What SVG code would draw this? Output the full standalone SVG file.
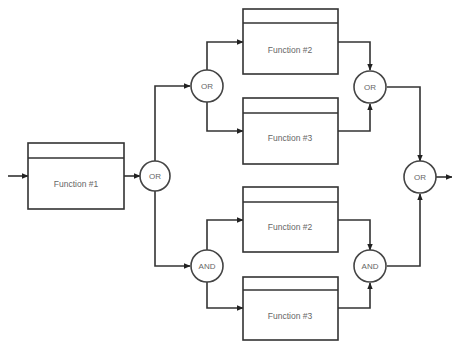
<svg xmlns="http://www.w3.org/2000/svg" width="452" height="342" viewBox="0 0 452 342">
<style>
.box{fill:#fff;stroke:#333;stroke-width:1.6}
.gate{fill:#fff;stroke:#444;stroke-width:1.6}
.lbl{font-family:"Liberation Sans",Arial,sans-serif;font-size:8.5px;fill:#666;text-anchor:middle}
.glbl{font-family:"Liberation Sans",Arial,sans-serif;font-size:8px;fill:#666;text-anchor:middle}
.wire{fill:none;stroke:#333;stroke-width:1.6;marker-end:url(#arr)}
</style>
<defs>
<marker id="arr" viewBox="0 0 10 10" refX="9" refY="5" markerWidth="7" markerHeight="7" orient="auto" markerUnits="userSpaceOnUse">
<path d="M0,1 L10,5 L0,9 z" fill="#222"/>
</marker>
</defs>
<g id="connectors">
<path class="wire" d="M8,176 H28"/>
<path class="wire" d="M124,176 H140"/>
<path class="wire" d="M155,161 V86 H190"/>
<path class="wire" d="M155,191 V266 H190"/>
<path class="wire" d="M207,70 V42 H243"/>
<path class="wire" d="M207,102 V131 H243"/>
<path class="wire" d="M207,250 V220 H243"/>
<path class="wire" d="M207,282 V308 H243"/>
<path class="wire" d="M338,42 H370 V70"/>
<path class="wire" d="M338,131 H370 V104"/>
<path class="wire" d="M338,220 H370 V250"/>
<path class="wire" d="M338,308 H370 V283"/>
<path class="wire" d="M387,87 H420 V161"/>
<path class="wire" d="M387,266 H420 V194"/>
<path class="wire" d="M436,177 H452"/>
</g>
<g id="f1">
<rect class="box" x="28" y="143" width="96" height="66"/>
<line class="box" x1="28" y1="158" x2="124" y2="158"/>
<text class="lbl" x="76" y="187">Function #1</text>
</g>
<g id="f2a">
<rect class="box" x="243" y="9" width="95" height="65"/>
<line class="box" x1="243" y1="23" x2="338" y2="23"/>
<text class="lbl" x="290" y="53">Function #2</text>
</g>
<g id="f3a">
<rect class="box" x="243" y="98" width="95" height="66"/>
<line class="box" x1="243" y1="113" x2="338" y2="113"/>
<text class="lbl" x="290" y="141">Function #3</text>
</g>
<g id="f2b">
<rect class="box" x="243" y="187" width="95" height="65"/>
<line class="box" x1="243" y1="202" x2="338" y2="202"/>
<text class="lbl" x="290" y="230">Function #2</text>
</g>
<g id="f3b">
<rect class="box" x="243" y="277" width="95" height="63"/>
<line class="box" x1="243" y1="290" x2="338" y2="290"/>
<text class="lbl" x="290" y="319">Function #3</text>
</g>
<g id="or1"><circle class="gate" cx="155" cy="176" r="15"/><text class="glbl" x="155" y="179">OR</text></g>
<g id="or2"><circle class="gate" cx="207" cy="86" r="16"/><text class="glbl" x="207" y="89">OR</text></g>
<g id="or3"><circle class="gate" cx="370" cy="87" r="16"/><text class="glbl" x="370" y="90">OR</text></g>
<g id="and1"><circle class="gate" cx="207" cy="266" r="16"/><text class="glbl" x="207" y="269">AND</text></g>
<g id="and2"><circle class="gate" cx="370" cy="266" r="16"/><text class="glbl" x="370" y="269">AND</text></g>
<g id="or4"><circle class="gate" cx="420" cy="177" r="16"/><text class="glbl" x="420" y="180">OR</text></g>
</svg>
